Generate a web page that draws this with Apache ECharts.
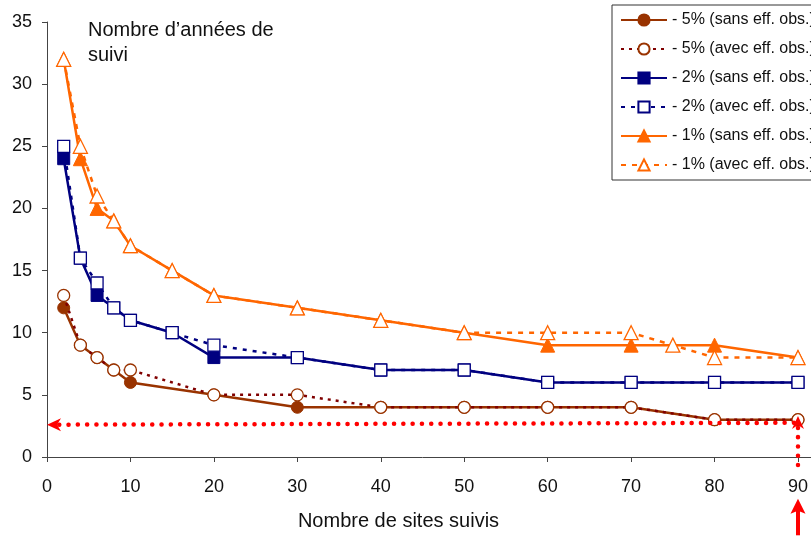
<!DOCTYPE html>
<html>
<head>
<meta charset="utf-8">
<script src="https://cdn.jsdelivr.net/npm/echarts@6/dist/echarts.min.js"></script>
<style>
  html, body { margin: 0; padding: 0; background: #fff; }
  #chart { width: 811px; height: 536px; }
</style>
</head>
<body>
<div id="chart"></div>
<script>
// Number of monitored sites (x) and years of monitoring needed (y)
const sites5 = [2, 4, 6, 8, 10, 20, 30, 40, 50, 60, 70, 80, 90];
const years5Sans = [12, 9, 8, 7, 6, 5, 4, 4, 4, 4, 4, 3, 3];
const years5Avec = [13, 9, 8, 7, 7, 5, 5, 4, 4, 4, 4, 3, 3];

const sites2 = [2, 4, 6, 8, 10, 15, 20, 30, 40, 50, 60, 70, 80, 90];
const years2Sans = [24, 16, 13, 12, 11, 10, 8, 8, 7, 7, 6, 6, 6, 6];
const years2Avec = [25, 16, 14, 12, 11, 10, 9, 8, 7, 7, 6, 6, 6, 6];

const sites1Sans = [2, 4, 6, 8, 10, 15, 20, 30, 40, 50, 60, 70, 80, 90];
const years1Sans = [32, 24, 20, 19, 17, 15, 13, 12, 11, 10, 9, 9, 9, 8];
const sites1Avec = [2, 4, 6, 8, 10, 15, 20, 30, 40, 50, 60, 70, 75, 80, 90];
const years1Avec = [32, 25, 21, 19, 17, 15, 13, 12, 11, 10, 10, 10, 9, 8, 8];

const seriesNames = [
  '- 5% (sans eff. obs.)',
  '- 5% (avec eff. obs.)',
  '- 2% (sans eff. obs.)',
  '- 2% (avec eff. obs.)',
  '- 1% (sans eff. obs.)',
  '- 1% (avec eff. obs.)'
];

// Red guide: reading at 90 sites
const guideSites = 90;
const guideYears = [2.6, 2.75];

const FONT = '"Liberation Sans", Arial, sans-serif';
const BROWN = '#993300';
const MAROON = '#800000';
const NAVY = '#000080';
const ORANGE = '#FF6600';

const pairs = (xs, ys) => xs.map((x, i) => [x, ys[i]]);

function solidSeries(name, xs, ys, color, symbol, size) {
  return {
    name, type: 'line', data: pairs(xs, ys),
    symbol, symbolSize: size, showAllSymbol: true,
    lineStyle: { color, width: 2.5 },
    itemStyle: { color, borderColor: color, borderWidth: 1 },
    emphasis: { disabled: true }, animation: false, z: 3
  };
}
function dottedSeries(name, xs, ys, lineColor, markColor, symbol, size, dash) {
  return {
    name, type: 'line', data: pairs(xs, ys),
    symbol, symbolSize: size, showAllSymbol: true,
    lineStyle: { color: lineColor, width: 2.5, type: dash },
    itemStyle: { color: '#fff', borderColor: markColor, borderWidth: 1.3 },
    emphasis: { disabled: true }, animation: false, z: 4
  };
}

const chart = echarts.init(document.getElementById('chart'), null, { renderer: 'canvas' });

const option = {
  backgroundColor: '#fff',
  animation: false,
  grid: { left: 47, right: 13, top: 22, bottom: 76, containLabel: false },
  legend: {
    orient: 'vertical',
    left: 612, top: 5,
    padding: [7, 10, 7, 8],
    itemGap: 13, itemWidth: 46, itemHeight: 14,
    backgroundColor: '#fff',
    borderColor: '#333', borderWidth: 1, borderRadius: 0,
    textStyle: { fontFamily: FONT, fontSize: 16, color: '#111' },
    data: seriesNames,
    selectedMode: false
  },
  xAxis: {
    type: 'value', min: 0, max: 90, interval: 10,
    name: 'Nombre de sites suivis',
    nameLocation: 'middle', nameGap: 54,
    nameTextStyle: { fontFamily: FONT, fontSize: 20, color: '#111', padding: [0, 48, 0, 0] },
    axisLine: { show: true, lineStyle: { color: '#444', width: 1 } },
    axisTick: { show: true, length: 5, lineStyle: { color: '#444' } },
    axisLabel: { fontFamily: FONT, fontSize: 18, color: '#111', margin: 21 },
    splitLine: { show: false }
  },
  yAxis: {
    type: 'value', min: 0, max: 35, interval: 5,
    axisLine: { show: true, lineStyle: { color: '#444', width: 1 } },
    axisTick: { show: true, length: 5, lineStyle: { color: '#444' } },
    axisLabel: { fontFamily: FONT, fontSize: 18, color: '#111', margin: 15 },
    splitLine: { show: false }
  },
  series: [
    solidSeries(seriesNames[0], sites5, years5Sans, BROWN, 'circle', 12),
    dottedSeries(seriesNames[1], sites5, years5Avec, MAROON, BROWN, 'circle', 12, [3, 5]),
    solidSeries(seriesNames[2], sites2, years2Sans, NAVY, 'rect', 12),
    dottedSeries(seriesNames[3], sites2, years2Avec, NAVY, NAVY, 'rect', 12, [4, 6]),
    solidSeries(seriesNames[4], sites1Sans, years1Sans, ORANGE, 'triangle', 14),
    dottedSeries(seriesNames[5], sites1Avec, years1Avec, ORANGE, ORANGE, 'triangle', 14, [5, 6])
  ]
};
chart.setOption(option);

// Red dotted guide lines with arrowheads, placed through the grid's own scales
const px = (x, y) => chart.convertToPixel({ gridIndex: 0 }, [x, y]);
const RED = '#FF0000';
const dots = { stroke: RED, lineWidth: 4.5, lineDash: [0.1, 9.2], lineCap: 'round' };

const hRight = px(guideSites, guideYears[1]);
const hTip = px(0, guideYears[0]);
const vBottom = px(guideSites, -0.65);
const vTip = px(guideSites, 3.3);
const aBottom = px(guideSites, -6.3);
const aTip = px(guideSites, -3.35);
const axisEnd = px(90, 0);

chart.setOption({
  graphic: [
    {
      type: 'text', left: 88, top: 18, z: 10,
      style: { text: 'Nombre d\u2019années de\nsuivi', font: '20px ' + FONT, fill: '#111', lineHeight: 25 }
    },
    {
      // the x axis line runs on to the right edge of the frame
      type: 'line', z: 1,
      shape: { x1: axisEnd[0], y1: axisEnd[1] + 0.5, x2: chart.getWidth(), y2: axisEnd[1] + 0.5 },
      style: { stroke: '#444', lineWidth: 1 }
    },
    {
      type: 'polyline', z: 20,
      shape: { points: [[hRight[0] - 4, hRight[1]], [hTip[0] + 11, hTip[1] + (hRight[1] - hTip[1]) * 0.015]] },
      style: dots
    },
    {
      type: 'polygon', z: 20,
      shape: { points: [[hTip[0], hTip[1]], [hTip[0] + 14, hTip[1] - 6.5], [hTip[0] + 10, hTip[1]], [hTip[0] + 14, hTip[1] + 6.5]] },
      style: { fill: RED }
    },
    {
      type: 'polyline', z: 20,
      shape: { points: [[vBottom[0], vBottom[1]], [vTip[0], vTip[1] + 10]] },
      style: dots
    },
    {
      type: 'polygon', z: 20,
      shape: { points: [[vTip[0], vTip[1]], [vTip[0] + 6, vTip[1] + 13], [vTip[0], vTip[1] + 9], [vTip[0] - 6, vTip[1] + 13]] },
      style: { fill: RED }
    },
    {
      type: 'polyline', z: 20,
      shape: { points: [[aBottom[0], aBottom[1]], [aTip[0], aTip[1] + 10]] },
      style: { stroke: RED, lineWidth: 4 }
    },
    {
      type: 'polygon', z: 20,
      shape: { points: [[aTip[0], aTip[1]], [aTip[0] + 7.5, aTip[1] + 15], [aTip[0], aTip[1] + 12], [aTip[0] - 7.5, aTip[1] + 15]] },
      style: { fill: RED }
    }
  ]
});
</script>
</body>
</html>
